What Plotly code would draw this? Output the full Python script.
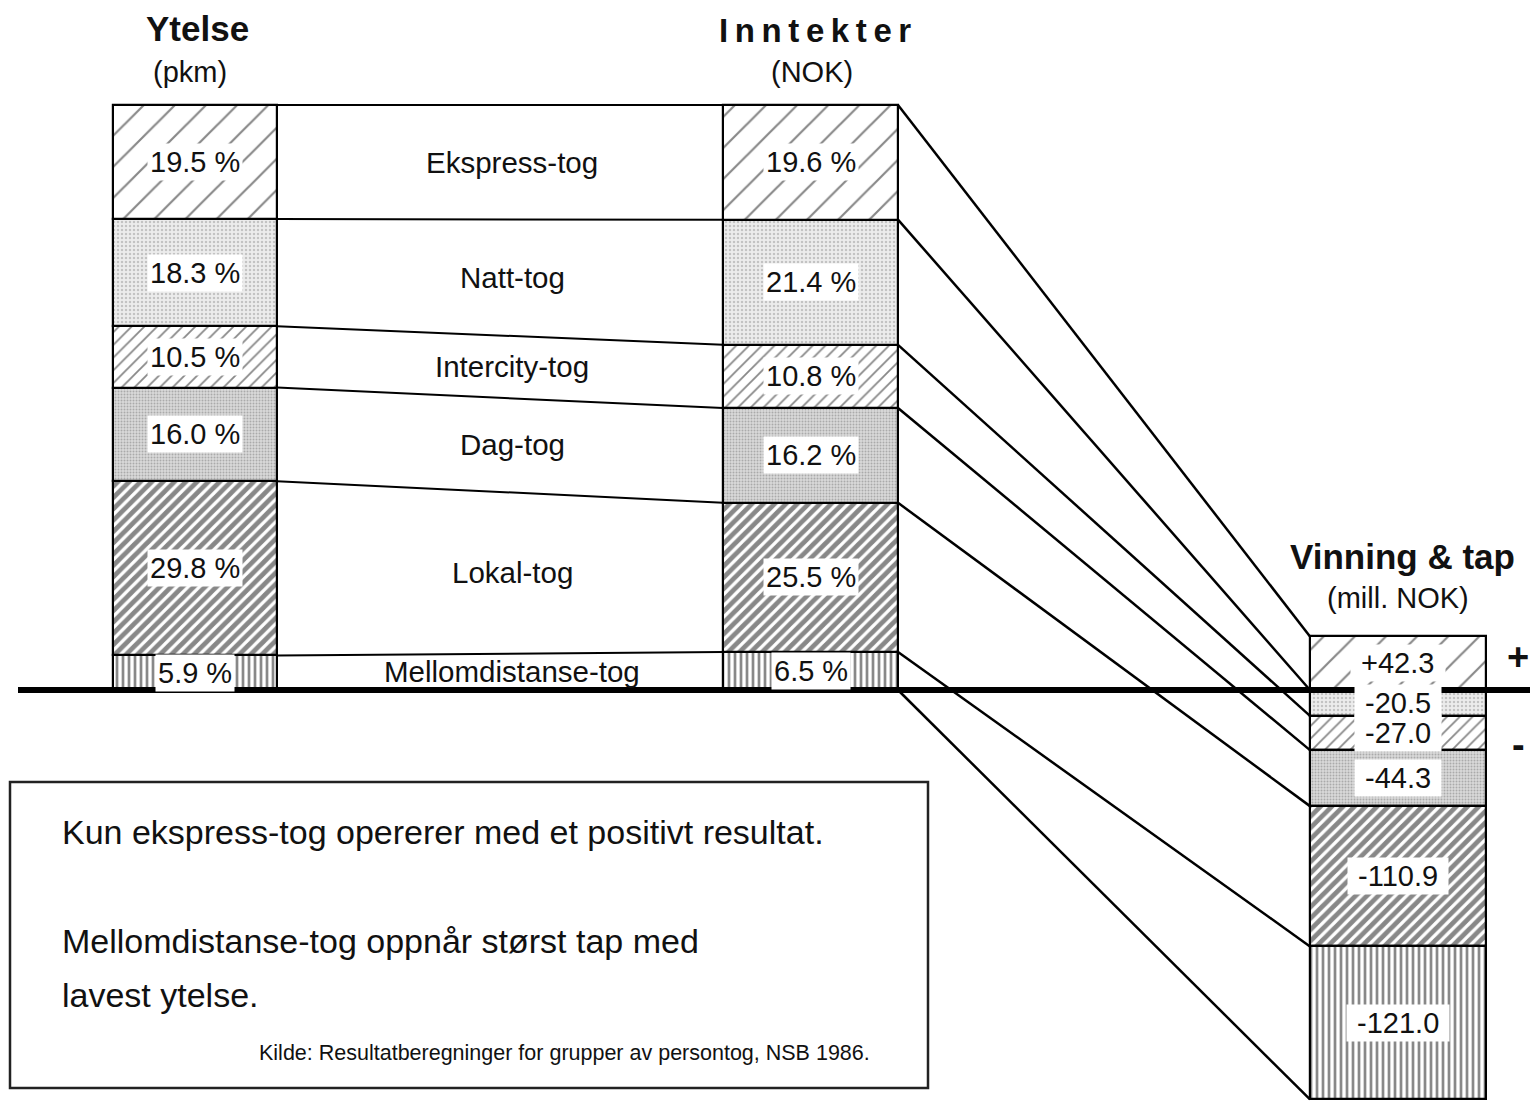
import plotly.graph_objects as go
import numpy as np

# ---------------- data ----------------
categories = ["Ekspress-tog", "Natt-tog", "Intercity-tog", "Dag-tog", "Lokal-tog", "Mellomdistanse-tog"]
ytelse_pct = [19.5, 18.3, 10.5, 16.0, 29.8, 5.9]
inntekter_pct = [19.6, 21.4, 10.8, 16.2, 25.5, 6.5]
resultat_mnok = [42.3, -20.5, -27.0, -44.3, -110.9, -121.0]
resultat_labels = ["+42.3", "-20.5", "-27.0", "-44.3", "-110.9", "-121.0"]

# ---------------- layout constants ----------------
W, H = 1530, 1104
BASE_PX = 690          # pixel row of the zero line
PX_PER_PCT = 5.85      # vertical scale of the percent bars
PX_PER_MNOK = 1.265    # vertical scale of the result bar
Y_TOP = BASE_PX / PX_PER_PCT
Y_BOT = -(H - BASE_PX) / PX_PER_PCT
K = PX_PER_MNOK / PX_PER_PCT   # percent-units per mill. NOK

def yd(px):
    return (BASE_PX - px) / PX_PER_PCT

YT_X0, YT_X1 = 113, 277
IN_X0, IN_X1 = 723, 898
VT_X0, VT_X1 = 1310, 1486

FONT = "Liberation Sans, Arial, Helvetica, sans-serif"

patterns = {
    "Ekspress-tog": dict(shape="/", size=22, solidity=0.1, fgcolor="#111", bgcolor="white"),
    "Natt-tog": dict(shape=".", size=4, solidity=0.3, fgcolor="#9a9a9a", bgcolor="#ececec"),
    "Intercity-tog": dict(shape="/", size=9, solidity=0.2, fgcolor="#111", bgcolor="white"),
    "Dag-tog": dict(shape=".", size=3, solidity=0.35, fgcolor="#7a7a7a", bgcolor="#dadada"),
    "Lokal-tog": dict(shape="/", size=8, solidity=0.6, fgcolor="#111", bgcolor="white"),
    "Mellomdistanse-tog": dict(shape="|", size=6, solidity=0.45, fgcolor="#111", bgcolor="white"),
}

fig = go.Figure()

def add_stack(xc, width, values, order, yaxis="y"):
    for i in order:
        c = categories[i]
        fig.add_trace(go.Bar(
            x=[xc], y=[values[i]], width=[width], yaxis=yaxis,
            marker=dict(color="white", line=dict(color="black", width=2.2),
                        pattern=patterns[c]),
            showlegend=False, hoverinfo="skip", name=c))

n = len(categories)
bottom_up = list(range(n - 1, -1, -1))
add_stack((YT_X0 + YT_X1) / 2, YT_X1 - YT_X0, ytelse_pct, bottom_up)
add_stack((IN_X0 + IN_X1) / 2, IN_X1 - IN_X0, inntekter_pct, bottom_up)
add_stack((VT_X0 + VT_X1) / 2, VT_X1 - VT_X0, resultat_mnok, list(range(n)), yaxis="y2")

# ---------------- segment geometry from data ----------------
def pct_bounds(vals):
    tops = [sum(vals[i:]) for i in range(n)]
    bots = [sum(vals[i + 1:]) for i in range(n)]
    return tops, bots

yt_tops, yt_bots = pct_bounds(ytelse_pct)
in_tops, in_bots = pct_bounds(inntekter_pct)

res_tops, res_bots = [], []
pos, neg = 0.0, 0.0
for v in resultat_mnok:
    if v >= 0:
        res_tops.append(pos + v); res_bots.append(pos); pos += v
    else:
        res_tops.append(neg); res_bots.append(neg + v); neg += v

yt_b = [yt_tops[0]] + yt_bots
in_b = [in_tops[0]] + in_bots
res_b = [res_tops[0] * K] + [b * K for b in res_bots]

# connecting lines Ytelse -> Inntekter
lx, ly = [], []
for a, b in zip(yt_b, in_b):
    lx += [YT_X1, IN_X0, None]; ly += [a, b, None]
fig.add_trace(go.Scatter(x=lx, y=ly, mode="lines", line=dict(color="black", width=2),
                         showlegend=False, hoverinfo="skip"))
# connecting lines Inntekter -> result
lx, ly = [], []
for a, b in zip(in_b, res_b):
    lx += [IN_X1, VT_X0, None]; ly += [a, b, None]
fig.add_trace(go.Scatter(x=lx, y=ly, mode="lines", line=dict(color="black", width=2.5),
                         showlegend=False, hoverinfo="skip"))

ann = []
LBL = dict(family=FONT, size=29, color="#111")
for i, c in enumerate(categories):
    ym_y = (yt_tops[i] + yt_bots[i]) / 2
    ym_i = (in_tops[i] + in_bots[i]) / 2
    ann.append(dict(x=(YT_X0 + YT_X1) / 2, y=ym_y, text=f"{ytelse_pct[i]:.1f} %", showarrow=False,
                    font=LBL, bgcolor="white", borderpad=2, xref="x", yref="y"))
    ann.append(dict(x=(IN_X0 + IN_X1) / 2, y=ym_i, text=f"{inntekter_pct[i]:.1f} %", showarrow=False,
                    font=LBL, bgcolor="white", borderpad=2, xref="x", yref="y"))
    ann.append(dict(x=512, y=(ym_y + ym_i) / 2, text=c, showarrow=False,
                    font=dict(family=FONT, size=29.5, color="#111"), xref="x", yref="y"))
    ann.append(dict(x=(VT_X0 + VT_X1) / 2, y=(res_tops[i] + res_bots[i]) / 2,
                    text="\u00a0" + resultat_labels[i] + "\u00a0",
                    showarrow=False, font=LBL, bgcolor="white", borderpad=2, xref="x", yref="y2"))

TS = "\u2009"
titles = [
    (197, 28, "<b>Ytelse</b>", 35), (190, 72, "(pkm)", 29),
    (815, 30, "<b>" + TS.join("Inntekter") + "</b>", 33), (812, 72, "(NOK)", 29),
    (1402, 556, "<b>Vinning &amp; tap</b>", 35), (1398, 598, "(mill. NOK)", 29),
    (1518, 657, "<b>+</b>", 38), (1518, 745, "<b>-</b>", 38),
]
for x, y, t, s in titles:
    ann.append(dict(x=x, y=yd(y), text=t, showarrow=False, xref="x", yref="y",
                    font=dict(family=FONT, size=s, color="#111")))

notes = [
    (60, 832, "Kun ekspress-tog opererer med et positivt resultat.", 34),
    (60, 941, "Mellomdistanse-tog oppnår størst tap med", 34),
    (60, 995, "lavest ytelse.", 34),
]
for x, y, t, s in notes:
    ann.append(dict(x=x, y=yd(y), text=t, showarrow=False, xref="x", yref="y", xanchor="left",
                    font=dict(family=FONT, size=s, color="#111")))
ann.append(dict(x=872, y=yd(1053), text="Kilde: Resultatberegninger for grupper av persontog, NSB 1986.",
                showarrow=False, xref="x", yref="y", xanchor="right",
                font=dict(family=FONT, size=21.5, color="#111")))

shapes = [
    dict(type="line", xref="x", yref="y", x0=18, x1=W, y0=0, y1=0, line=dict(color="black", width=6)),
    dict(type="rect", xref="x", yref="y", x0=10, x1=928, y0=yd(782), y1=yd(1088),
         line=dict(color="#222", width=2.5)),
]

fig.update_layout(
    width=W, height=H, margin=dict(l=0, r=0, t=0, b=0),
    paper_bgcolor="white", plot_bgcolor="white",
    barmode="relative", bargap=0,
    xaxis=dict(range=[0, W], visible=False, fixedrange=True),
    yaxis=dict(range=[Y_BOT, Y_TOP], visible=False),
    yaxis2=dict(range=[Y_BOT / K, Y_TOP / K], visible=False, overlaying="y"),
    annotations=ann, shapes=shapes, showlegend=False,
)

fig.write_html("out.html")
